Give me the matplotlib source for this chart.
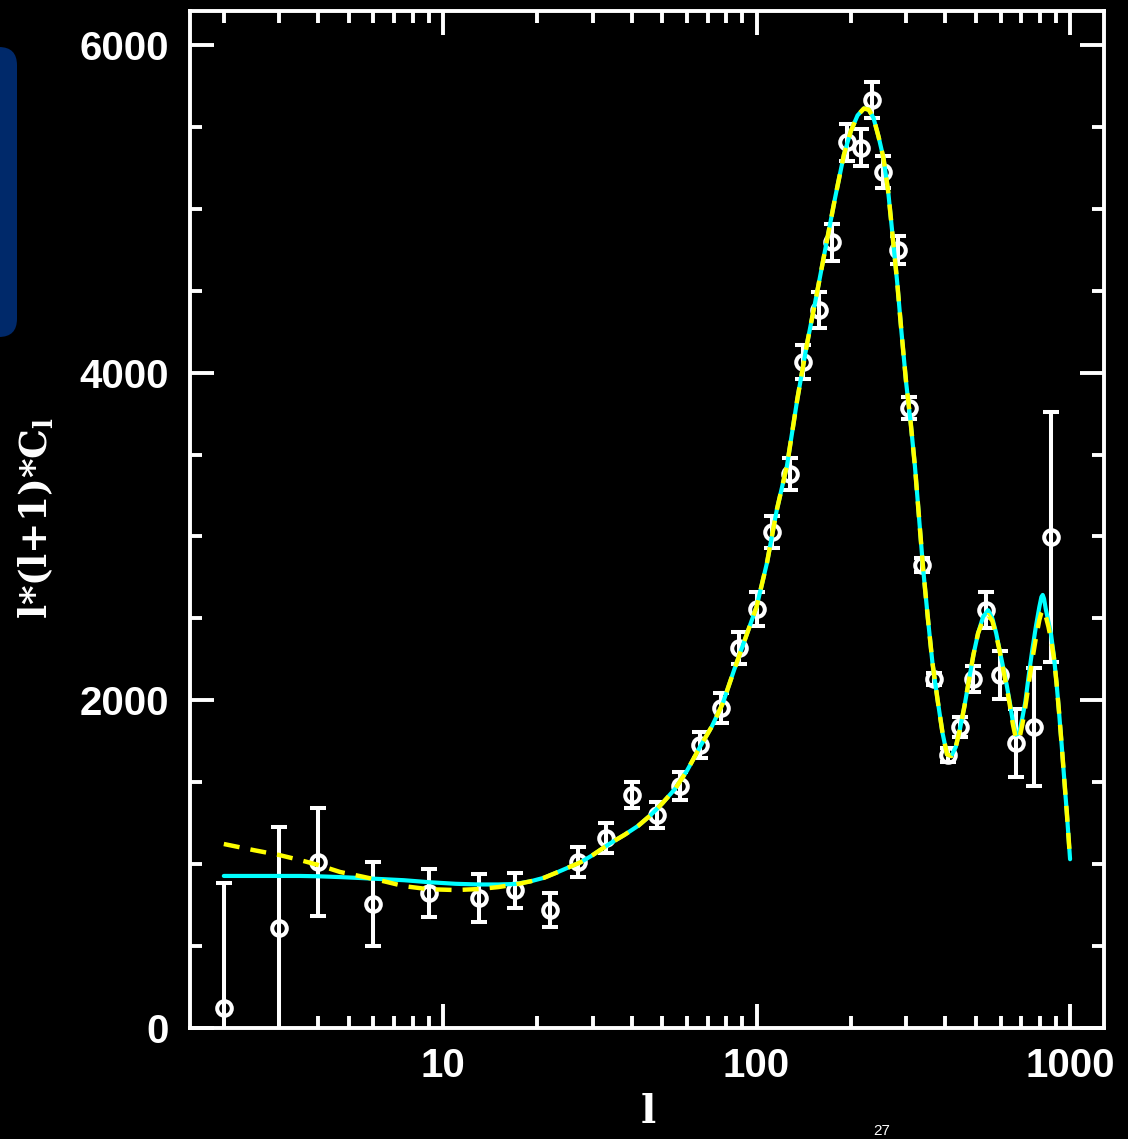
import matplotlib
matplotlib.use("Agg")
import matplotlib.pyplot as plt
from matplotlib.patches import FancyBboxPatch
from matplotlib.ticker import LogLocator, MultipleLocator, FixedLocator, FixedFormatter, NullFormatter

plt.rcParams['font.family'] = ['Liberation Sans', 'DejaVu Sans']
plt.rcParams['mathtext.fontset'] = 'custom'
plt.rcParams['mathtext.rm'] = 'DejaVu Serif:bold'

# ---------------- data ----------------
ell_data = [2, 3, 4, 6, 9, 13, 17, 22, 27, 33, 40, 48, 57, 66, 77, 88, 100, 112,
            128, 141, 158, 174, 195, 215, 234, 254, 282, 307, 336, 367, 408,
            445, 489, 538, 596, 670, 765, 870]
cl_data = [120, 610, 1013, 757, 824, 793, 842, 720, 1013, 1160, 1422, 1300, 1477,
           1727, 1953, 2319, 2555, 3025, 3381, 4065, 4382, 4797, 5407, 5371, 5664,
           5224, 4748, 3784, 2826, 2130, 1666, 1837, 2130, 2551, 2154, 1739, 1837,
           2997]
cl_err = [765, 615, 330, 256, 147, 144, 107, 104, 94, 92, 80, 82, 88, 82, 92, 98,
          103, 98, 100, 106, 110, 113, 113, 113, 107, 95, 88, 65, 45, 35, 40, 60,
          82, 107, 144, 210, 363, 763]

ell_model = [2, 2.5, 3, 3.5, 4, 4.7, 5.5, 6.5, 7.5, 9, 11, 13, 15, 17, 19, 21, 23,
             25, 27.5, 30, 34, 38, 42, 46, 50, 55, 60, 66, 72, 78, 85, 92, 100, 108,
             116, 125, 135, 145, 156, 167, 178, 190, 200, 210, 220, 228, 236, 245,
             254, 263, 272, 281, 290, 300, 310, 320, 330, 340, 352, 364, 378, 392,
             405, 418, 432, 446, 460, 476, 492, 509, 528, 548, 565, 581, 597, 612,
             627, 642, 657, 672, 688, 704, 720, 738, 758, 778, 798, 810, 818, 826,
             836, 853, 870, 888, 905, 922, 940, 958, 976, 1000]
model_cyan = [928, 928, 928, 928, 926, 921, 915, 908, 902, 890, 880, 876, 876, 879,
              895, 917, 948, 978, 1012, 1055, 1125, 1180, 1235, 1300, 1370, 1460,
              1570, 1715, 1840, 1980, 2190, 2375, 2570, 2840, 3160, 3430, 3841, 4179,
              4490, 4788, 5065, 5330, 5475, 5570, 5612, 5605, 5555, 5440, 5310, 5105,
              4825, 4550, 4245, 3940, 3700, 3430, 3110, 2800, 2500, 2228, 2002, 1800,
              1670, 1660, 1715, 1830, 1960, 2124, 2280, 2410, 2510, 2550, 2500, 2411,
              2300, 2200, 2100, 1990, 1870, 1790, 1800, 1890, 1990, 2150, 2310, 2450,
              2570, 2630, 2643, 2620, 2560, 2480, 2400, 2270, 2110, 1930, 1730, 1520,
              1320, 1030]
model_yellow = [1123, 1085, 1056, 1025, 995, 952, 925, 895, 866, 847, 842, 848, 860,
                876, 895, 917, 948, 978, 1012, 1055, 1125, 1180, 1235, 1300, 1370,
                1460, 1570, 1715, 1840, 1980, 2190, 2375, 2570, 2840, 3160, 3430, 3841,
                4179, 4490, 4788, 5065, 5330, 5475, 5570, 5612, 5605, 5555, 5440, 5310,
                5105, 4825, 4550, 4245, 3940, 3700, 3430, 3110, 2800, 2500, 2228, 2002,
                1800, 1670, 1660, 1715, 1830, 1960, 2124, 2280, 2410, 2490, 2520, 2485,
                2400, 2295, 2190, 2085, 1975, 1855, 1765, 1760, 1850, 1960, 2100, 2250,
                2380, 2490, 2535, 2551, 2545, 2515, 2450, 2370, 2260, 2110, 1930, 1730,
                1520, 1320, 1030]

x_major = [10, 100, 1000]
x_labels = ['10', '100', '1000']
y_major = [0, 2000, 4000, 6000]
y_labels = ['0', '2000', '4000', '6000']

# ---------------- figure ----------------
W, H = 1128, 1139
fig = plt.figure(figsize=(W / 100, H / 100), dpi=100, facecolor='black')

# dark blue rounded tab at left edge
tab = FancyBboxPatch((-30 / W, (H - 337) / H), 47 / W, 290 / H,
                     boxstyle="round,pad=0,rounding_size=0.016",
                     transform=fig.transFigure, facecolor='#00296a',
                     edgecolor='none', zorder=0)
fig.patches.append(tab)

ax = fig.add_axes([190 / W, 111 / H, 914 / W, 1017 / H])
ax.set_facecolor('black')
ax.set_xscale('log')
ax.set_xlim(1.56, 1283)
ax.set_ylim(0, 6207)

ax.errorbar(ell_data, cl_data, yerr=cl_err, fmt='o', ms=10.5, mfc='none',
            mec='white', mew=2.9, ecolor='white', elinewidth=2.9, capsize=6,
            capthick=2.9, zorder=2)
ax.plot(ell_model, model_cyan, color='#00ffff', lw=3, solid_capstyle='round',
        zorder=3)
ax.plot(ell_model, model_yellow, color='#ffff00', lw=3.2, dashes=(3.6, 2.5),
        dash_capstyle='butt', zorder=4)

for s in ax.spines.values():
    s.set_color('white')
    s.set_linewidth(2.8)

ax.xaxis.set_major_locator(FixedLocator(x_major))
ax.xaxis.set_major_formatter(FixedFormatter(x_labels))
ax.xaxis.set_minor_locator(LogLocator(base=10, subs=range(2, 10)))
ax.xaxis.set_minor_formatter(NullFormatter())
ax.yaxis.set_major_locator(FixedLocator(y_major))
ax.yaxis.set_major_formatter(FixedFormatter(y_labels))
ax.yaxis.set_minor_locator(MultipleLocator(500))

ax.tick_params(which='both', direction='in', top=True, right=True,
               colors='white', width=2.8)
ax.tick_params(which='major', length=17)
ax.tick_params(which='minor', length=8.5)
ax.tick_params(axis='y', which='major', pad=15)
ax.tick_params(axis='x', which='major', pad=14)
for lab in ax.get_xticklabels() + ax.get_yticklabels():
    lab.set_fontsize(29)
    lab.set_fontweight('bold')
    lab.set_color('white')

fig.text(36 / W, (H - 518) / H, 'l*(l+1)*C$_\\mathrm{l}$', rotation=90,
         color='white', fontsize=27, fontweight='bold',
         family=['DejaVu Serif'], ha='center', va='center')
fig.text(648 / W, (H - 1112) / H, 'l', color='white', fontsize=29,
         fontweight='bold', family=['DejaVu Serif'],
         ha='center', va='center')
fig.text(882 / W, 1 / H, '27', color='white', fontsize=11,
         ha='center', va='bottom')

fig.savefig('out.png', dpi=100, facecolor='black')
